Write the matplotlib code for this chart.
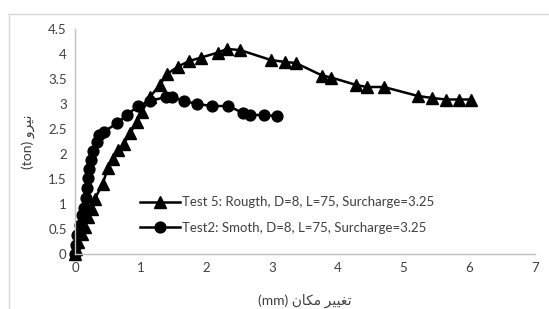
import matplotlib
matplotlib.use("Agg")
import matplotlib.pyplot as plt
from matplotlib.lines import Line2D

plt.rcParams['font.family'] = ['Lato', 'DejaVu Sans']

# Test 5 (rough) - triangles
t5_x = [0, 0.02, 0.05, 0.1, 0.15, 0.2, 0.26, 0.3, 0.42, 0.5, 0.58, 0.66, 0.74, 0.84, 0.94,
        1.02, 1.14, 1.29, 1.4, 1.57, 1.74, 1.92, 2.18, 2.31, 2.51, 2.98, 3.2, 3.36, 3.76,
        3.9, 4.28, 4.44, 4.7, 5.22, 5.44, 5.64, 5.84, 6.02]
t5_y = [0, 0.1, 0.25, 0.4, 0.55, 0.75, 0.9, 1.1, 1.4, 1.72, 1.9, 2.08, 2.2, 2.42, 2.64,
        2.85, 3.14, 3.38, 3.6, 3.75, 3.86, 3.93, 4.03, 4.1, 4.08, 3.88, 3.84, 3.82, 3.57,
        3.53, 3.38, 3.34, 3.34, 3.16, 3.12, 3.09, 3.09, 3.09]

# Test 2 (smooth) - circles
t2_x = [0, 0.01, 0.03, 0.07, 0.1, 0.13, 0.17, 0.18, 0.2, 0.22, 0.24, 0.27, 0.33, 0.36,
        0.44, 0.64, 0.79, 0.96, 1.14, 1.38, 1.48, 1.66, 1.86, 2.08, 2.33, 2.56, 2.66,
        2.88, 3.07]
t2_y = [0, 0.18, 0.38, 0.58, 0.78, 0.92, 1.12, 1.32, 1.52, 1.7, 1.88, 2.06, 2.24, 2.38,
        2.44, 2.62, 2.78, 2.96, 3.06, 3.14, 3.14, 3.06, 3.0, 2.96, 2.96, 2.82, 2.78,
        2.78, 2.76]

label5 = 'Test 5: Rougth, D=8, L=75, Surcharge=3.25'
label2 = 'Test2: Smoth, D=8, L=75, Surcharge=3.25'

# Persian labels written in visual (presentation-form) order
xlab = '(mm) \uFEE5\uFE8E\uFEDC\uFEE3 \uFEAE\uFEF4\uFEF4\uFED0\uFE97'
ylab = '(ton) \uFEED\uFEAE\uFEF4\uFEE7'

fig = plt.figure(figsize=(5.49, 3.09), dpi=100)
ax = fig.add_axes([75/549, 1 - 254/309, 460/549, 225/309])

ax.plot(t5_x, t5_y, color='black', lw=1.8, marker='^', ms=8, clip_on=False, label=label5)
ax.plot(t2_x, t2_y, color='black', lw=1.8, marker='o', ms=7.8, clip_on=False, label=label2)

ax.set_xlim(0, 7)
ax.set_ylim(0, 4.5)
ax.set_xticks(range(8))
ax.set_yticks([0, 0.5, 1, 1.5, 2, 2.5, 3, 3.5, 4, 4.5])
ax.set_yticklabels(['0', '0.5', '1', '1.5', '2', '2.5', '3', '3.5', '4', '4.5'])
ax.tick_params(length=0, labelsize=9.5, labelcolor='#404040', pad=6)
for s in ['top', 'right']:
    ax.spines[s].set_visible(False)
for s in ['left', 'bottom']:
    ax.spines[s].set_color('#BFBFBF')
    ax.spines[s].set_linewidth(1)
ax.set_zorder(2)

ax.set_xlabel(xlab, fontsize=10, color='#404040')
ax.set_ylabel(ylab, fontsize=10, color='#404040')
ax.xaxis.set_label_coords(0.5, -0.175)
ax.yaxis.set_label_coords(-0.088, 0.5)

ax.legend(loc='center left', bbox_to_anchor=(140/549, 1 - 215/309), bbox_transform=fig.transFigure,
          frameon=False, fontsize=9.5, handlelength=3.0, handletextpad=0.2, labelspacing=1.0,
          borderpad=0, borderaxespad=0, labelcolor='#404040')

# outer chart border (partly cut off)
fig.add_artist(Line2D([9/549, 1], [1 - 14/309, 1 - 14/309], color='#D9D9D9', lw=1))
fig.add_artist(Line2D([9/549, 9/549], [0, 1 - 14/309], color='#D9D9D9', lw=1))

fig.savefig('out.png', dpi=100)
